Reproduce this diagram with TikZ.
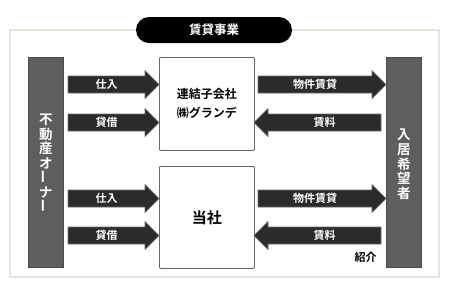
\documentclass[tikz,border=0pt]{standalone}
\usepackage{fontspec}
\newfontfamily\jp{Noto Sans CJK JP}[BoldFont={* Bold}]
\usetikzlibrary{calc}
\definecolor{frame}{HTML}{DCEBD3}
\definecolor{bar}{HTML}{5E5E5E}
\definecolor{arr}{HTML}{2B2B2B}
\tikzset{
  lbl/.style={text=white,font=\jp\bfseries\fontsize{11}{12}\selectfont,inner sep=0pt},
  arrbody/.style={fill=arr,draw=arr!70!white,line width=0.6pt},
  company/.style={draw=black!60,line width=0.8pt,fill=white,rounded corners=1pt,inner sep=0pt},
  sidebar/.style={fill=bar,draw=bar!80!black,line width=0.5pt,minimum width=35pt,minimum height=210pt,inner sep=0pt,anchor=north west},
  sidetxt/.style={text=white,font=\jp\bfseries\fontsize{13.5}{14.6}\selectfont,align=center,inner sep=0pt},
}
\newcommand\rarr[5]{% name, x1, xtip, yc, label
  \draw[arrbody] (#2,#4-8.5) -- (#3-14,#4-8.5) -- (#3-14,#4-14) -- (#3,#4) -- (#3-14,#4+14) -- (#3-14,#4+8.5) -- (#2,#4+8.5) -- cycle;
  \node[lbl] (#1) at ({(#2+#3-14)/2},#4) {#5};}
\newcommand\larr[5]{% name, xtip, x2, yc, label
  \draw[arrbody] (#3,#4-8.5) -- (#2+14,#4-8.5) -- (#2+14,#4-14) -- (#2,#4) -- (#2+14,#4+14) -- (#2+14,#4+8.5) -- (#3,#4+8.5) -- cycle;
  \node[lbl] (#1) at ({(#2+14+#3)/2},#4) {#5};}
\begin{document}
\begin{tikzpicture}[x=1pt,y=-1pt]
\useasboundingbox (0,0) rectangle (450,293);
\fill[white] (0,0) rectangle (450,293);
% frame
\draw[frame,line width=1.5pt] (10,30) rectangle (439,277);
% title
\node[fill=black,text=white,rounded corners=13pt,minimum width=156pt,minimum height=26pt,inner sep=0pt,font=\jp\bfseries\fontsize{12.5}{13}\selectfont] (title) at (214,30) {賃貸事業};
% side bars
\node[sidebar] (owner) at (28,57) {};
\node[sidetxt] (ownertxt) at ([yshift=-1pt]owner.center) {不\\動\\産\\オ\\\rotatebox{90}{ー}\\ナ\\\rotatebox{90}{ー}};
\node[sidebar] (tenant) at (386,57) {};
\node[sidetxt] (tenanttxt) at ([yshift=-2pt]tenant.center) {入\\居\\希\\望\\者};
% company boxes
\node[company,minimum width=95pt,minimum height=93pt,anchor=north west] (grande) at (159,57) {};
\node[font=\jp\bfseries\fontsize{12}{19}\selectfont,align=center,inner sep=0pt] (grandetxt) at (grande.center) {連結子会社\\㈱グランデ};
\node[company,minimum width=95pt,minimum height=102pt,anchor=north west] (us) at (159,166) {};
\node[font=\jp\bfseries\fontsize{15}{16}\selectfont,inner sep=0pt] (ustxt) at (us.center) {当社};
% arrows
\rarr{a1}{68}{159}{84.5}{仕入}
\rarr{a2}{68}{159}{122.5}{貸借}
\rarr{a3}{258}{386}{84.5}{物件賃貸}
\larr{a4}{254}{381}{122.5}{賃料}
\rarr{b1}{68}{159}{198.5}{仕入}
\rarr{b2}{68}{159}{235.5}{貸借}
\rarr{b3}{258}{386}{198.5}{物件賃貸}
\larr{b4}{254}{381}{235.5}{賃料}
\node[font=\jp\bfseries\fontsize{11}{12}\selectfont,inner sep=0pt] (intro) at (365.5,257) {紹介};
\end{tikzpicture}
\end{document}
